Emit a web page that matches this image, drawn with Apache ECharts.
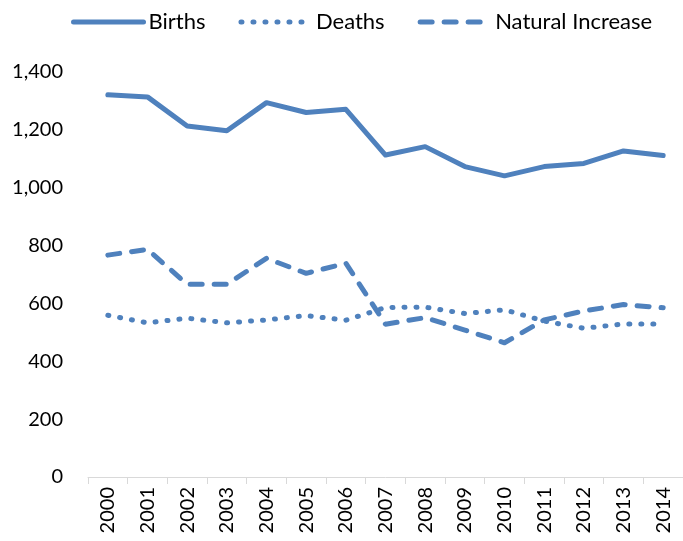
<!DOCTYPE html>
<html>
<head>
<meta charset="utf-8">
<script src="https://cdn.jsdelivr.net/npm/echarts@6/dist/echarts.min.js"></script>
<style>
  html, body { margin: 0; padding: 0; background: #fff; }
  #chart { width: 683px; height: 541px; }
</style>
</head>
<body>
<div id="chart"></div>
<script>
var years = ['2000', '2001', '2002', '2003', '2004', '2005', '2006', '2007',
             '2008', '2009', '2010', '2011', '2012', '2013', '2014'];
var births = [1321, 1314, 1213, 1197, 1294, 1260, 1271, 1113, 1142, 1073, 1041, 1073, 1084, 1127, 1111];
var deaths = [559, 533, 549, 533, 543, 558, 542, 586, 587, 565, 578, 539, 514, 529, 529];
var naturalIncrease = [767, 787, 666, 666, 756, 704, 739, 528, 551, 508, 464, 543, 574, 596, 585];

var blue = '#4F81BD';
var font = 'Lato';

var myChart = echarts.init(document.getElementById('chart'));

function lineSeries(name, data, dash) {
    return {
        name: name,
        type: 'line',
        data: data,
        symbol: 'none',
        animation: false,
        lineStyle: {
            color: blue,
            width: 5,
            type: dash,
            cap: 'round',
            join: 'round'
        },
        itemStyle: { color: blue }
    };
}

var option = {
    backgroundColor: '#fff',
    textStyle: { fontFamily: font },
    legend: {
        top: 6,
        left: 66,
        itemWidth: 70,
        itemHeight: 14,
        itemGap: 33,
        itemStyle: { opacity: 0 },
        lineStyle: { width: 5, cap: 'round' },
        textStyle: { fontFamily: font, fontSize: 22, color: '#000' },
        data: ['Births', 'Deaths', 'Natural Increase']
    },
    grid: {
        left: 88,
        right: -7,
        top: 72,
        bottom: 64,
        containLabel: false
    },
    xAxis: {
        type: 'category',
        data: years,
        boundaryGap: true,
        axisLine: { lineStyle: { color: '#D9D9D9', width: 1 } },
        axisTick: { show: true, length: 7, lineStyle: { color: '#D9D9D9' } },
        axisLabel: {
            rotate: 90,
            interval: 0,
            margin: 10,
            fontFamily: font,
            fontSize: 20,
            color: '#000'
        },
        splitLine: { show: false }
    },
    yAxis: {
        type: 'value',
        min: 0,
        max: 1400,
        interval: 200,
        axisLine: { show: false },
        axisTick: { show: false },
        splitLine: { show: false },
        axisLabel: {
            margin: 25,
            fontFamily: font,
            fontSize: 20,
            color: '#000',
            formatter: function (v) {
                return v.toString().replace(/\B(?=(\d{3})+(?!\d))/g, ',');
            }
        }
    },
    series: [
        lineSeries('Births', births, 'solid'),
        lineSeries('Deaths', deaths, [1, 11]),
        lineSeries('Natural Increase', naturalIncrease, [12, 12])
    ]
};

myChart.setOption(option);
</script>
</body>
</html>
